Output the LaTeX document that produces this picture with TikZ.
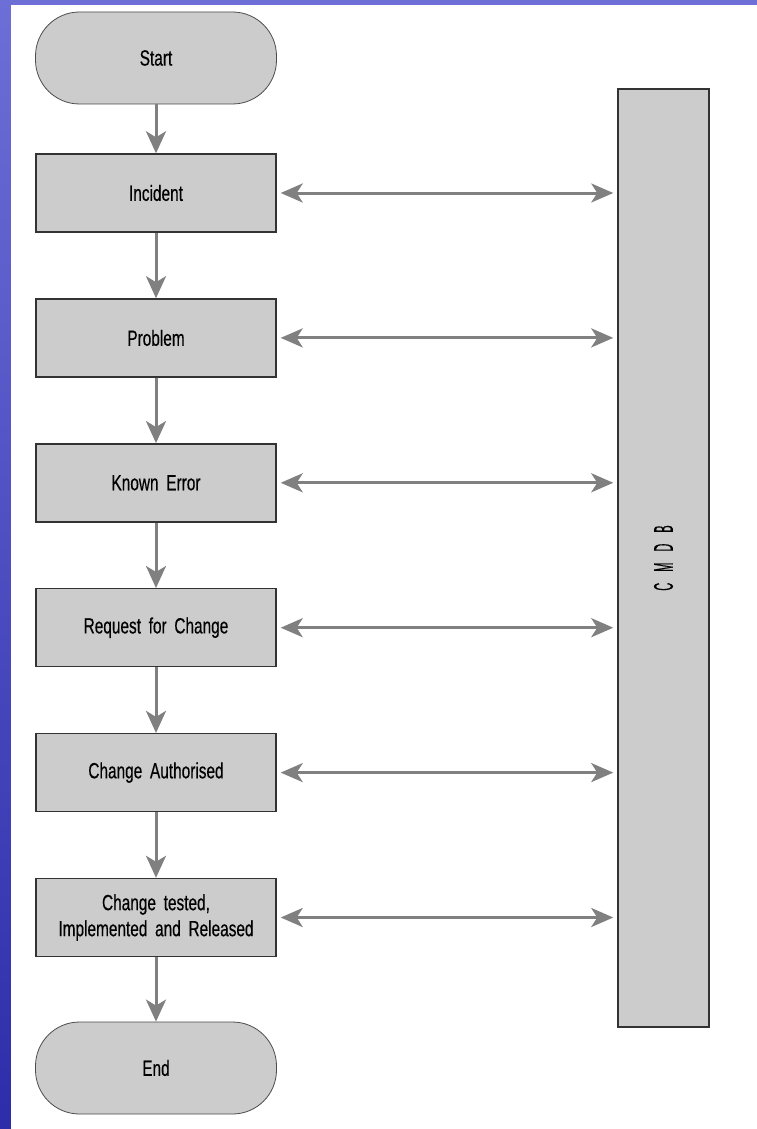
\documentclass[tikz,border=0pt]{standalone}
\usepackage{fontspec}
\usepackage{graphicx}
\setmainfont[FakeStretch=0.7,FakeBold=0.4,WordSpace=1.8]{Liberation Sans}
\usetikzlibrary{arrows.meta}
\definecolor{boxgray}{RGB}{204,204,204}
\definecolor{linkgray}{RGB}{128,128,128}
\definecolor{slidetop}{RGB}{110,110,215}
\definecolor{slidebot}{RGB}{45,45,170}
\begin{document}
\begin{tikzpicture}[x=1pt,y=-1pt,font=\fontsize{22}{26}\selectfont,
proc/.style={draw=black!80, line width=1.4pt, fill=boxgray, minimum width=240pt, minimum height=78pt, inner sep=0pt, align=center},
term/.style={draw=black!70, line width=0.8pt, fill=boxgray, rounded corners=44pt, minimum width=241pt, minimum height=92pt, inner sep=0pt},
flow/.style={draw=linkgray, line width=3pt, -{Stealth[length=22pt,width=20pt,inset=6pt]}},
sync/.style={draw=linkgray, line width=3pt, {Stealth[length=22pt,width=19pt,inset=6pt]}-{Stealth[length=22pt,width=19pt,inset=6pt]}, shorten <=4pt, shorten >=4pt}]
\fill[top color=slidetop, bottom color=slidebot] (0,0) rectangle (757,1129);
\fill[white] (11,5) rectangle (757,1129);
\node[term] (start) at (156,58){Start};
\node[proc] (incident) at (156,193){Incident};
\node[proc] (problem) at (156,337.9){Problem};
\node[proc] (knownerr) at (156,482.8){Known Error};
\node[proc] (rfc) at (156,627.7){Request for Change};
\node[proc] (authorised) at (156,772.6){Change Authorised};
\node[proc] (released) at (156,917.5){Change tested,\\Implemented and Released};
\node[term] (end) at (156,1068){End};
\node[draw=black!80, line width=1.5pt, fill=boxgray, minimum width=91pt, minimum height=938pt, inner sep=0pt] (cmdb) at (663.5,558){\rotatebox{90}{\scalebox{0.58}[1]{\fontsize{27}{27}\selectfont C\hspace{19pt}M\hspace{19pt}D\hspace{19pt}B}}};
\draw[flow] (start) -- (incident);
\draw[flow] (incident) -- (problem);
\draw[flow] (problem) -- (knownerr);
\draw[flow] (knownerr) -- (rfc);
\draw[flow] (rfc) -- (authorised);
\draw[flow] (authorised) -- (released);
\draw[flow] (released) -- (end);
\draw[sync] (incident.east) -- (cmdb.west |- incident.east);
\draw[sync] (problem.east) -- (cmdb.west |- problem.east);
\draw[sync] (knownerr.east) -- (cmdb.west |- knownerr.east);
\draw[sync] (rfc.east) -- (cmdb.west |- rfc.east);
\draw[sync] (authorised.east) -- (cmdb.west |- authorised.east);
\draw[sync] (released.east) -- (cmdb.west |- released.east);
\end{tikzpicture}
\end{document}
